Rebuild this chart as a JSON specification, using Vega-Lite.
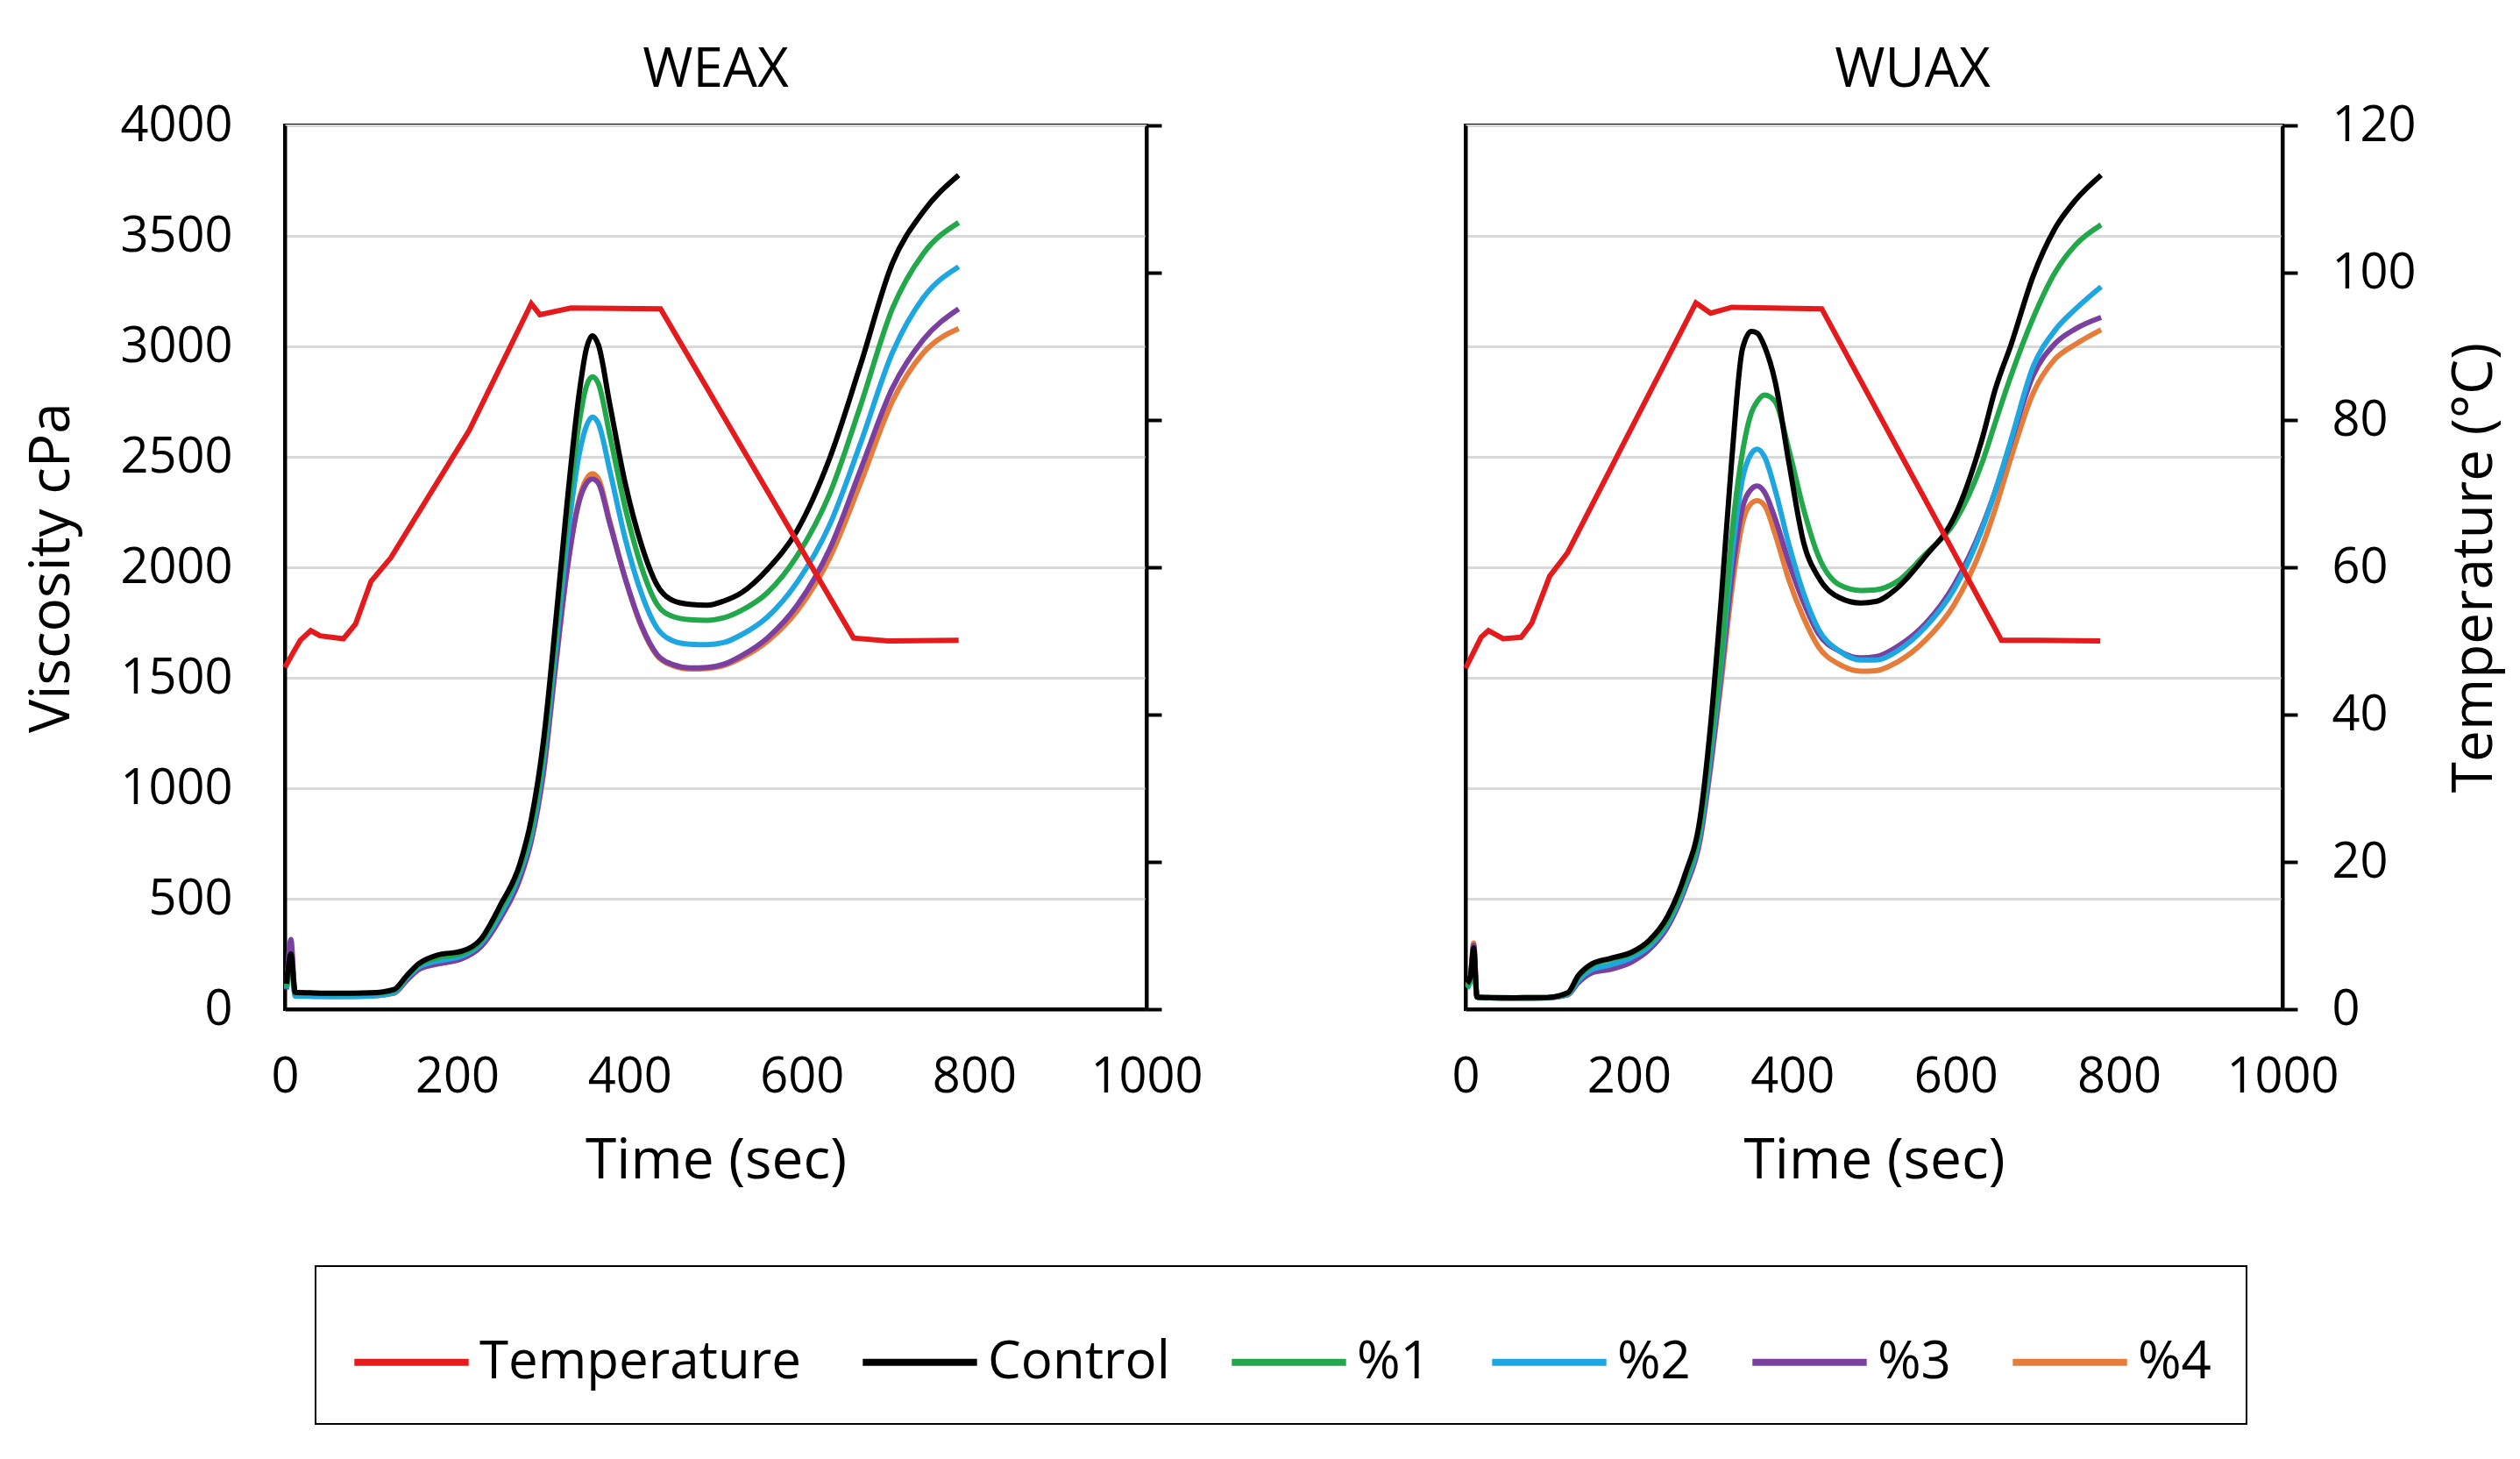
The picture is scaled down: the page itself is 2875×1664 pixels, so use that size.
{
  "$schema": "https://vega.github.io/schema/vega-lite/v6.json",
  "background": "white",
  "padding": {"left": 25, "top": 47, "right": 10, "bottom": 10},
  "config": {
    "font": "Open Sans",
    "view": {"stroke": "black", "strokeWidth": 4},
    "concat": {"spacing": 278},
    "title": {"font": "Open Sans", "fontSize": 62, "fontWeight": "normal", "color": "black", "offset": 3},
    "axis": {
      "domainColor": "black", "domainWidth": 4,
      "labelFont": "Open Sans", "labelFontSize": 56, "labelColor": "black", "format": "d", "labelFlush": false,
      "titleFont": "Open Sans", "titleFontSize": 64, "titleFontWeight": "normal", "titleColor": "black",
      "gridColor": "#d9d9d9", "gridWidth": 3,
      "tickColor": "black", "tickWidth": 4
    },
    "axisX": {"ticks": false, "tickSize": 0, "labelPadding": 50, "titlePadding": 36, "grid": false},
    "legend": {
      "orient": "none", "legendX": 35, "legendY": 1301, "direction": "horizontal",
      "strokeColor": "black", "strokeWidth": 2, "fillColor": "white", "padding": 40,
      "symbolType": "stroke", "symbolStrokeWidth": 8, "symbolSize": 17000,
      "labelFont": "Open Sans", "labelFontSize": 60, "labelColor": "black", "labelOffset": 8, "labelLimit": 0,
      "columnPadding": 54
    }
  },
  "datasets": {
    "weax": [
      {"series": "%4", "time": 2, "value": 90}, {"series": "%4", "time": 7, "value": 270}, {"series": "%4", "time": 12, "value": 60}, {"series": "%4", "time": 30, "value": 58}, {"series": "%4", "time": 60, "value": 57}, {"series": "%4", "time": 100, "value": 60}, {"series": "%4", "time": 127, "value": 72}, {"series": "%4", "time": 141, "value": 128}, {"series": "%4", "time": 155, "value": 178}, {"series": "%4", "time": 177, "value": 205}, {"series": "%4", "time": 205, "value": 228}, {"series": "%4", "time": 227, "value": 280}, {"series": "%4", "time": 250, "value": 410}, {"series": "%4", "time": 273, "value": 590}, {"series": "%4", "time": 286, "value": 760}, {"series": "%4", "time": 300, "value": 1060}, {"series": "%4", "time": 314, "value": 1540}, {"series": "%4", "time": 327, "value": 1970}, {"series": "%4", "time": 341, "value": 2300}, {"series": "%4", "time": 350, "value": 2400}, {"series": "%4", "time": 357, "value": 2424}, {"series": "%4", "time": 364, "value": 2400}, {"series": "%4", "time": 377, "value": 2210}, {"series": "%4", "time": 395, "value": 1950}, {"series": "%4", "time": 414, "value": 1730}, {"series": "%4", "time": 432, "value": 1600}, {"series": "%4", "time": 450, "value": 1555}, {"series": "%4", "time": 470, "value": 1540}, {"series": "%4", "time": 490, "value": 1542}, {"series": "%4", "time": 510, "value": 1556}, {"series": "%4", "time": 530, "value": 1590}, {"series": "%4", "time": 560, "value": 1665}, {"series": "%4", "time": 595, "value": 1805}, {"series": "%4", "time": 632, "value": 2040}, {"series": "%4", "time": 668, "value": 2380}, {"series": "%4", "time": 705, "value": 2750}, {"series": "%4", "time": 741, "value": 2970}, {"series": "%4", "time": 782, "value": 3080},
      {"series": "%3", "time": 2, "value": 90}, {"series": "%3", "time": 7, "value": 315}, {"series": "%3", "time": 12, "value": 65}, {"series": "%3", "time": 30, "value": 62}, {"series": "%3", "time": 60, "value": 60}, {"series": "%3", "time": 100, "value": 62}, {"series": "%3", "time": 127, "value": 75}, {"series": "%3", "time": 141, "value": 130}, {"series": "%3", "time": 155, "value": 180}, {"series": "%3", "time": 177, "value": 205}, {"series": "%3", "time": 205, "value": 228}, {"series": "%3", "time": 227, "value": 282}, {"series": "%3", "time": 250, "value": 412}, {"series": "%3", "time": 273, "value": 595}, {"series": "%3", "time": 286, "value": 765}, {"series": "%3", "time": 300, "value": 1075}, {"series": "%3", "time": 314, "value": 1555}, {"series": "%3", "time": 327, "value": 1975}, {"series": "%3", "time": 341, "value": 2290}, {"series": "%3", "time": 350, "value": 2380}, {"series": "%3", "time": 357, "value": 2400}, {"series": "%3", "time": 364, "value": 2380}, {"series": "%3", "time": 377, "value": 2200}, {"series": "%3", "time": 395, "value": 1950}, {"series": "%3", "time": 414, "value": 1735}, {"series": "%3", "time": 432, "value": 1605}, {"series": "%3", "time": 450, "value": 1560}, {"series": "%3", "time": 470, "value": 1545}, {"series": "%3", "time": 490, "value": 1547}, {"series": "%3", "time": 510, "value": 1562}, {"series": "%3", "time": 530, "value": 1600}, {"series": "%3", "time": 560, "value": 1680}, {"series": "%3", "time": 595, "value": 1830}, {"series": "%3", "time": 632, "value": 2080}, {"series": "%3", "time": 668, "value": 2440}, {"series": "%3", "time": 705, "value": 2810}, {"series": "%3", "time": 741, "value": 3030}, {"series": "%3", "time": 782, "value": 3170},
      {"series": "%2", "time": 2, "value": 95}, {"series": "%2", "time": 7, "value": 200}, {"series": "%2", "time": 12, "value": 60}, {"series": "%2", "time": 30, "value": 60}, {"series": "%2", "time": 60, "value": 58}, {"series": "%2", "time": 100, "value": 60}, {"series": "%2", "time": 127, "value": 75}, {"series": "%2", "time": 141, "value": 138}, {"series": "%2", "time": 155, "value": 190}, {"series": "%2", "time": 177, "value": 218}, {"series": "%2", "time": 205, "value": 240}, {"series": "%2", "time": 227, "value": 295}, {"series": "%2", "time": 250, "value": 430}, {"series": "%2", "time": 273, "value": 620}, {"series": "%2", "time": 286, "value": 790}, {"series": "%2", "time": 300, "value": 1120}, {"series": "%2", "time": 314, "value": 1620}, {"series": "%2", "time": 327, "value": 2100}, {"series": "%2", "time": 341, "value": 2500}, {"series": "%2", "time": 350, "value": 2640}, {"series": "%2", "time": 357, "value": 2680}, {"series": "%2", "time": 364, "value": 2650}, {"series": "%2", "time": 377, "value": 2440}, {"series": "%2", "time": 395, "value": 2130}, {"series": "%2", "time": 414, "value": 1880}, {"series": "%2", "time": 432, "value": 1725}, {"series": "%2", "time": 450, "value": 1668}, {"series": "%2", "time": 470, "value": 1652}, {"series": "%2", "time": 490, "value": 1650}, {"series": "%2", "time": 510, "value": 1660}, {"series": "%2", "time": 530, "value": 1695}, {"series": "%2", "time": 560, "value": 1775}, {"series": "%2", "time": 595, "value": 1935}, {"series": "%2", "time": 632, "value": 2190}, {"series": "%2", "time": 668, "value": 2560}, {"series": "%2", "time": 705, "value": 2970}, {"series": "%2", "time": 741, "value": 3220}, {"series": "%2", "time": 782, "value": 3360},
      {"series": "%1", "time": 2, "value": 100}, {"series": "%1", "time": 7, "value": 230}, {"series": "%1", "time": 12, "value": 72}, {"series": "%1", "time": 30, "value": 72}, {"series": "%1", "time": 60, "value": 70}, {"series": "%1", "time": 100, "value": 72}, {"series": "%1", "time": 127, "value": 84}, {"series": "%1", "time": 141, "value": 145}, {"series": "%1", "time": 155, "value": 200}, {"series": "%1", "time": 177, "value": 232}, {"series": "%1", "time": 205, "value": 252}, {"series": "%1", "time": 227, "value": 305}, {"series": "%1", "time": 250, "value": 450}, {"series": "%1", "time": 273, "value": 640}, {"series": "%1", "time": 286, "value": 820}, {"series": "%1", "time": 300, "value": 1160}, {"series": "%1", "time": 314, "value": 1680}, {"series": "%1", "time": 327, "value": 2190}, {"series": "%1", "time": 341, "value": 2640}, {"series": "%1", "time": 350, "value": 2820}, {"series": "%1", "time": 357, "value": 2862}, {"series": "%1", "time": 364, "value": 2830}, {"series": "%1", "time": 377, "value": 2600}, {"series": "%1", "time": 395, "value": 2270}, {"series": "%1", "time": 414, "value": 2000}, {"series": "%1", "time": 432, "value": 1832}, {"series": "%1", "time": 450, "value": 1778}, {"series": "%1", "time": 470, "value": 1763}, {"series": "%1", "time": 490, "value": 1760}, {"series": "%1", "time": 510, "value": 1772}, {"series": "%1", "time": 530, "value": 1805}, {"series": "%1", "time": 560, "value": 1885}, {"series": "%1", "time": 595, "value": 2055}, {"series": "%1", "time": 632, "value": 2330}, {"series": "%1", "time": 668, "value": 2730}, {"series": "%1", "time": 705, "value": 3170}, {"series": "%1", "time": 741, "value": 3420}, {"series": "%1", "time": 782, "value": 3560},
      {"series": "Control", "time": 2, "value": 115}, {"series": "Control", "time": 7, "value": 250}, {"series": "Control", "time": 12, "value": 76}, {"series": "Control", "time": 30, "value": 74}, {"series": "Control", "time": 60, "value": 72}, {"series": "Control", "time": 100, "value": 74}, {"series": "Control", "time": 127, "value": 90}, {"series": "Control", "time": 141, "value": 150}, {"series": "Control", "time": 155, "value": 205}, {"series": "Control", "time": 177, "value": 245}, {"series": "Control", "time": 205, "value": 262}, {"series": "Control", "time": 227, "value": 315}, {"series": "Control", "time": 250, "value": 470}, {"series": "Control", "time": 273, "value": 660}, {"series": "Control", "time": 286, "value": 860}, {"series": "Control", "time": 300, "value": 1210}, {"series": "Control", "time": 314, "value": 1740}, {"series": "Control", "time": 327, "value": 2270}, {"series": "Control", "time": 341, "value": 2770}, {"series": "Control", "time": 350, "value": 2990}, {"series": "Control", "time": 357, "value": 3048}, {"series": "Control", "time": 364, "value": 3005}, {"series": "Control", "time": 377, "value": 2740}, {"series": "Control", "time": 395, "value": 2380}, {"series": "Control", "time": 414, "value": 2100}, {"series": "Control", "time": 432, "value": 1920}, {"series": "Control", "time": 450, "value": 1850}, {"series": "Control", "time": 470, "value": 1832}, {"series": "Control", "time": 490, "value": 1828}, {"series": "Control", "time": 510, "value": 1848}, {"series": "Control", "time": 530, "value": 1885}, {"series": "Control", "time": 560, "value": 1990}, {"series": "Control", "time": 595, "value": 2170}, {"series": "Control", "time": 632, "value": 2490}, {"series": "Control", "time": 668, "value": 2915}, {"series": "Control", "time": 705, "value": 3375}, {"series": "Control", "time": 741, "value": 3610}, {"series": "Control", "time": 782, "value": 3775},
      {"series": "Temperature", "time": 0, "value": 46.4}, {"series": "Temperature", "time": 10, "value": 48.5}, {"series": "Temperature", "time": 18, "value": 50.1}, {"series": "Temperature", "time": 30, "value": 51.4}, {"series": "Temperature", "time": 41, "value": 50.7}, {"series": "Temperature", "time": 68, "value": 50.3}, {"series": "Temperature", "time": 82, "value": 52.3}, {"series": "Temperature", "time": 100, "value": 58.1}, {"series": "Temperature", "time": 123, "value": 61.3}, {"series": "Temperature", "time": 214, "value": 78.6}, {"series": "Temperature", "time": 286, "value": 95.8}, {"series": "Temperature", "time": 296, "value": 94.3}, {"series": "Temperature", "time": 332, "value": 95.2}, {"series": "Temperature", "time": 436, "value": 95.1}, {"series": "Temperature", "time": 660, "value": 50.4}, {"series": "Temperature", "time": 700, "value": 50.0}, {"series": "Temperature", "time": 782, "value": 50.1}
    ],
    "wuax": [
      {"series": "%4", "time": 2, "value": 110}, {"series": "%4", "time": 6, "value": 150}, {"series": "%4", "time": 10, "value": 300}, {"series": "%4", "time": 14, "value": 55}, {"series": "%4", "time": 30, "value": 52}, {"series": "%4", "time": 60, "value": 50}, {"series": "%4", "time": 100, "value": 52}, {"series": "%4", "time": 125, "value": 66}, {"series": "%4", "time": 138, "value": 125}, {"series": "%4", "time": 155, "value": 170}, {"series": "%4", "time": 177, "value": 195}, {"series": "%4", "time": 204, "value": 225}, {"series": "%4", "time": 225, "value": 275}, {"series": "%4", "time": 247, "value": 375}, {"series": "%4", "time": 269, "value": 550}, {"series": "%4", "time": 287, "value": 760}, {"series": "%4", "time": 300, "value": 1090}, {"series": "%4", "time": 313, "value": 1480}, {"series": "%4", "time": 326, "value": 1900}, {"series": "%4", "time": 339, "value": 2200}, {"series": "%4", "time": 350, "value": 2290}, {"series": "%4", "time": 357, "value": 2302}, {"series": "%4", "time": 366, "value": 2280}, {"series": "%4", "time": 379, "value": 2150}, {"series": "%4", "time": 396, "value": 1940}, {"series": "%4", "time": 414, "value": 1770}, {"series": "%4", "time": 432, "value": 1640}, {"series": "%4", "time": 458, "value": 1560}, {"series": "%4", "time": 484, "value": 1530}, {"series": "%4", "time": 502, "value": 1532}, {"series": "%4", "time": 528, "value": 1570}, {"series": "%4", "time": 563, "value": 1670}, {"series": "%4", "time": 598, "value": 1830}, {"series": "%4", "time": 633, "value": 2100}, {"series": "%4", "time": 648, "value": 2260}, {"series": "%4", "time": 668, "value": 2500}, {"series": "%4", "time": 695, "value": 2790}, {"series": "%4", "time": 721, "value": 2940}, {"series": "%4", "time": 747, "value": 3010}, {"series": "%4", "time": 778, "value": 3075},
      {"series": "%3", "time": 2, "value": 100}, {"series": "%3", "time": 6, "value": 140}, {"series": "%3", "time": 10, "value": 290}, {"series": "%3", "time": 14, "value": 55}, {"series": "%3", "time": 30, "value": 52}, {"series": "%3", "time": 60, "value": 50}, {"series": "%3", "time": 100, "value": 52}, {"series": "%3", "time": 125, "value": 65}, {"series": "%3", "time": 138, "value": 120}, {"series": "%3", "time": 155, "value": 165}, {"series": "%3", "time": 177, "value": 180}, {"series": "%3", "time": 204, "value": 215}, {"series": "%3", "time": 225, "value": 270}, {"series": "%3", "time": 247, "value": 370}, {"series": "%3", "time": 269, "value": 550}, {"series": "%3", "time": 287, "value": 770}, {"series": "%3", "time": 300, "value": 1110}, {"series": "%3", "time": 313, "value": 1520}, {"series": "%3", "time": 326, "value": 1960}, {"series": "%3", "time": 339, "value": 2270}, {"series": "%3", "time": 350, "value": 2355}, {"series": "%3", "time": 357, "value": 2368}, {"series": "%3", "time": 366, "value": 2340}, {"series": "%3", "time": 379, "value": 2220}, {"series": "%3", "time": 396, "value": 2020}, {"series": "%3", "time": 414, "value": 1840}, {"series": "%3", "time": 432, "value": 1700}, {"series": "%3", "time": 458, "value": 1620}, {"series": "%3", "time": 484, "value": 1590}, {"series": "%3", "time": 502, "value": 1595}, {"series": "%3", "time": 528, "value": 1640}, {"series": "%3", "time": 563, "value": 1745}, {"series": "%3", "time": 598, "value": 1920}, {"series": "%3", "time": 633, "value": 2190}, {"series": "%3", "time": 648, "value": 2340}, {"series": "%3", "time": 668, "value": 2570}, {"series": "%3", "time": 695, "value": 2870}, {"series": "%3", "time": 721, "value": 3010}, {"series": "%3", "time": 747, "value": 3080}, {"series": "%3", "time": 778, "value": 3131},
      {"series": "%2", "time": 2, "value": 95}, {"series": "%2", "time": 6, "value": 130}, {"series": "%2", "time": 10, "value": 260}, {"series": "%2", "time": 14, "value": 55}, {"series": "%2", "time": 30, "value": 52}, {"series": "%2", "time": 60, "value": 50}, {"series": "%2", "time": 100, "value": 52}, {"series": "%2", "time": 125, "value": 68}, {"series": "%2", "time": 138, "value": 130}, {"series": "%2", "time": 155, "value": 180}, {"series": "%2", "time": 177, "value": 200}, {"series": "%2", "time": 204, "value": 235}, {"series": "%2", "time": 225, "value": 285}, {"series": "%2", "time": 247, "value": 385}, {"series": "%2", "time": 269, "value": 565}, {"series": "%2", "time": 287, "value": 790}, {"series": "%2", "time": 300, "value": 1150}, {"series": "%2", "time": 313, "value": 1560}, {"series": "%2", "time": 326, "value": 2050}, {"series": "%2", "time": 339, "value": 2400}, {"series": "%2", "time": 350, "value": 2515}, {"series": "%2", "time": 357, "value": 2535}, {"series": "%2", "time": 366, "value": 2500}, {"series": "%2", "time": 379, "value": 2350}, {"series": "%2", "time": 396, "value": 2100}, {"series": "%2", "time": 414, "value": 1880}, {"series": "%2", "time": 432, "value": 1720}, {"series": "%2", "time": 458, "value": 1620}, {"series": "%2", "time": 484, "value": 1580}, {"series": "%2", "time": 502, "value": 1580}, {"series": "%2", "time": 528, "value": 1620}, {"series": "%2", "time": 563, "value": 1730}, {"series": "%2", "time": 598, "value": 1900}, {"series": "%2", "time": 633, "value": 2180}, {"series": "%2", "time": 648, "value": 2340}, {"series": "%2", "time": 668, "value": 2580}, {"series": "%2", "time": 695, "value": 2910}, {"series": "%2", "time": 721, "value": 3070}, {"series": "%2", "time": 747, "value": 3170}, {"series": "%2", "time": 778, "value": 3270},
      {"series": "%1", "time": 2, "value": 100}, {"series": "%1", "time": 6, "value": 140}, {"series": "%1", "time": 10, "value": 240}, {"series": "%1", "time": 14, "value": 55}, {"series": "%1", "time": 30, "value": 53}, {"series": "%1", "time": 60, "value": 52}, {"series": "%1", "time": 100, "value": 53}, {"series": "%1", "time": 125, "value": 72}, {"series": "%1", "time": 138, "value": 145}, {"series": "%1", "time": 155, "value": 200}, {"series": "%1", "time": 177, "value": 225}, {"series": "%1", "time": 204, "value": 252}, {"series": "%1", "time": 225, "value": 300}, {"series": "%1", "time": 247, "value": 400}, {"series": "%1", "time": 269, "value": 585}, {"series": "%1", "time": 287, "value": 820}, {"series": "%1", "time": 300, "value": 1200}, {"series": "%1", "time": 313, "value": 1600}, {"series": "%1", "time": 326, "value": 2150}, {"series": "%1", "time": 339, "value": 2520}, {"series": "%1", "time": 350, "value": 2700}, {"series": "%1", "time": 357, "value": 2750}, {"series": "%1", "time": 366, "value": 2780}, {"series": "%1", "time": 379, "value": 2750}, {"series": "%1", "time": 396, "value": 2530}, {"series": "%1", "time": 414, "value": 2260}, {"series": "%1", "time": 432, "value": 2050}, {"series": "%1", "time": 458, "value": 1920}, {"series": "%1", "time": 484, "value": 1895}, {"series": "%1", "time": 502, "value": 1898}, {"series": "%1", "time": 528, "value": 1935}, {"series": "%1", "time": 563, "value": 2060}, {"series": "%1", "time": 598, "value": 2200}, {"series": "%1", "time": 633, "value": 2480}, {"series": "%1", "time": 648, "value": 2650}, {"series": "%1", "time": 668, "value": 2870}, {"series": "%1", "time": 695, "value": 3130}, {"series": "%1", "time": 721, "value": 3330}, {"series": "%1", "time": 747, "value": 3460}, {"series": "%1", "time": 778, "value": 3550},
      {"series": "Control", "time": 2, "value": 117}, {"series": "Control", "time": 6, "value": 150}, {"series": "Control", "time": 10, "value": 277}, {"series": "Control", "time": 14, "value": 55}, {"series": "Control", "time": 30, "value": 53}, {"series": "Control", "time": 60, "value": 52}, {"series": "Control", "time": 100, "value": 53}, {"series": "Control", "time": 125, "value": 74}, {"series": "Control", "time": 138, "value": 152}, {"series": "Control", "time": 155, "value": 206}, {"series": "Control", "time": 177, "value": 230}, {"series": "Control", "time": 204, "value": 259}, {"series": "Control", "time": 225, "value": 312}, {"series": "Control", "time": 247, "value": 418}, {"series": "Control", "time": 269, "value": 613}, {"series": "Control", "time": 287, "value": 862}, {"series": "Control", "time": 300, "value": 1287}, {"series": "Control", "time": 313, "value": 1855}, {"series": "Control", "time": 326, "value": 2493}, {"series": "Control", "time": 339, "value": 2989}, {"series": "Control", "time": 350, "value": 3067}, {"series": "Control", "time": 357, "value": 3060}, {"series": "Control", "time": 366, "value": 3000}, {"series": "Control", "time": 379, "value": 2840}, {"series": "Control", "time": 396, "value": 2470}, {"series": "Control", "time": 414, "value": 2110}, {"series": "Control", "time": 432, "value": 1955}, {"series": "Control", "time": 458, "value": 1862}, {"series": "Control", "time": 484, "value": 1838}, {"series": "Control", "time": 502, "value": 1845}, {"series": "Control", "time": 528, "value": 1905}, {"series": "Control", "time": 563, "value": 2050}, {"series": "Control", "time": 598, "value": 2225}, {"series": "Control", "time": 633, "value": 2590}, {"series": "Control", "time": 648, "value": 2800}, {"series": "Control", "time": 668, "value": 3010}, {"series": "Control", "time": 695, "value": 3320}, {"series": "Control", "time": 721, "value": 3530}, {"series": "Control", "time": 747, "value": 3663}, {"series": "Control", "time": 778, "value": 3775},
      {"series": "Temperature", "time": 0, "value": 46.3}, {"series": "Temperature", "time": 10, "value": 48.5}, {"series": "Temperature", "time": 19, "value": 50.5}, {"series": "Temperature", "time": 28, "value": 51.4}, {"series": "Temperature", "time": 46, "value": 50.3}, {"series": "Temperature", "time": 68, "value": 50.5}, {"series": "Temperature", "time": 81, "value": 52.4}, {"series": "Temperature", "time": 103, "value": 58.8}, {"series": "Temperature", "time": 125, "value": 62}, {"series": "Temperature", "time": 186, "value": 75.2}, {"series": "Temperature", "time": 282, "value": 95.9}, {"series": "Temperature", "time": 300, "value": 94.5}, {"series": "Temperature", "time": 326, "value": 95.3}, {"series": "Temperature", "time": 436, "value": 95.1}, {"series": "Temperature", "time": 656, "value": 50.1}, {"series": "Temperature", "time": 700, "value": 50.1}, {"series": "Temperature", "time": 777, "value": 50}
    ]
  },
  "hconcat": [
    {
      "width": 983,
      "height": 1008,
      "title": {"text": "WEAX"},
      "data": {"name": "weax"},
      "encoding": {
        "x": {"field": "time", "type": "quantitative", "scale": {"domain": [0, 1000], "nice": false}, "axis": {"values": [0, 200, 400, 600, 800, 1000], "title": "Time (sec)"}},
        "color": {"field": "series", "type": "nominal", "scale": {"domain": ["Temperature", "Control", "%1", "%2", "%3", "%4"], "range": ["#e41a1c", "#000000", "#22a84a", "#1ea6e0", "#7b3fa0", "#e57c3a"]}, "legend": {"title": null}}
      },
      "layer": [
        {
          "transform": [{"filter": "datum.series !== 'Temperature'"}],
          "mark": {"type": "line", "strokeWidth": 6, "interpolate": "monotone"},
          "encoding": {
            "y": {"field": "value", "type": "quantitative", "scale": {"domain": [0, 4000], "nice": false},
              "axis": {"orient": "left", "values": [0, 500, 1000, 1500, 2000, 2500, 3000, 3500, 4000], "title": "Viscosity cPa", "grid": true, "ticks": false, "tickSize": 0, "labelPadding": 60, "titlePadding": 45}}
          }
        },
        {
          "transform": [{"filter": "datum.series === 'Temperature'"}],
          "mark": {"type": "line", "strokeWidth": 6},
          "encoding": {
            "y": {"field": "value", "type": "quantitative", "scale": {"domain": [0, 120], "nice": false},
              "axis": {"orient": "right", "values": [0, 20, 40, 60, 80, 100, 120], "title": null, "grid": false, "labels": false, "ticks": true, "tickSize": 17}}
          }
        }
      ],
      "resolve": {"scale": {"y": "independent"}}
    },
    {
      "width": 932,
      "height": 1008,
      "title": {"text": "WUAX", "dx": 44},
      "data": {"name": "wuax"},
      "encoding": {
        "x": {"field": "time", "type": "quantitative", "scale": {"domain": [0, 1000], "nice": false}, "axis": {"values": [0, 200, 400, 600, 800, 1000], "title": "Time (sec)"}},
        "color": {"field": "series", "type": "nominal", "scale": {"domain": ["Temperature", "Control", "%1", "%2", "%3", "%4"], "range": ["#e41a1c", "#000000", "#22a84a", "#1ea6e0", "#7b3fa0", "#e57c3a"]}, "legend": {"title": null}}
      },
      "layer": [
        {
          "transform": [{"filter": "datum.series !== 'Temperature'"}],
          "mark": {"type": "line", "strokeWidth": 6, "interpolate": "monotone"},
          "encoding": {
            "y": {"field": "value", "type": "quantitative", "scale": {"domain": [0, 4000], "nice": false},
              "axis": {"orient": "left", "values": [0, 500, 1000, 1500, 2000, 2500, 3000, 3500, 4000], "title": null, "grid": true, "labels": false, "ticks": false, "tickSize": 0}}
          }
        },
        {
          "transform": [{"filter": "datum.series === 'Temperature'"}],
          "mark": {"type": "line", "strokeWidth": 6},
          "encoding": {
            "y": {"field": "value", "type": "quantitative", "scale": {"domain": [0, 120], "nice": false},
              "axis": {"orient": "right", "values": [0, 20, 40, 60, 80, 100, 120], "title": "Temperature (°C)", "titleAngle": 270, "titleBaseline": "top", "grid": false, "ticks": true, "tickSize": 17, "labelPadding": 39, "titlePadding": 35}}
          }
        }
      ],
      "resolve": {"scale": {"y": "independent"}}
    }
  ]
}
